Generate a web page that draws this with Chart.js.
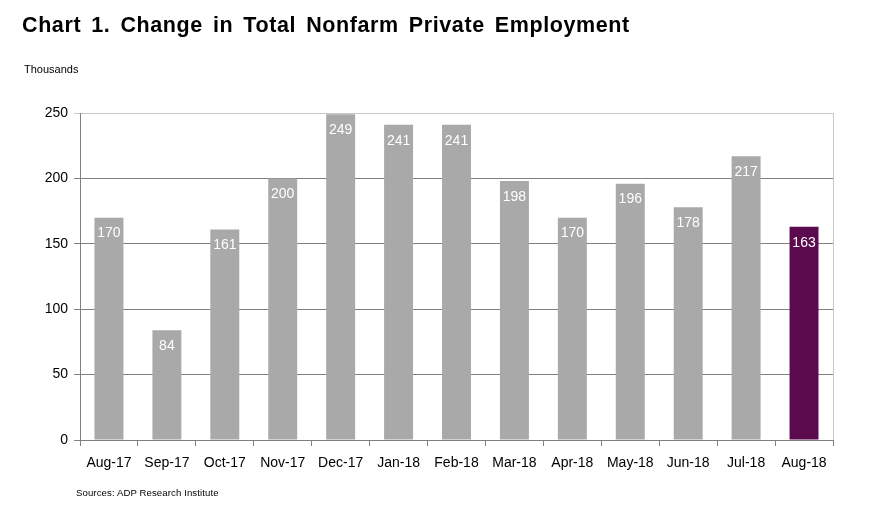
<!DOCTYPE html>
<html>
<head>
<meta charset="utf-8">
<script src="https://cdn.jsdelivr.net/npm/chart.js@4.4.1/dist/chart.umd.min.js"></script>
<style>
  html, body { margin:0; padding:0; background:#fff; }
  #wrap { position:relative; width:869px; height:523px; overflow:hidden; font-family:"Liberation Sans", Arial, sans-serif; }
  #c { position:absolute; left:0; top:0; }
  .t { position:absolute; white-space:nowrap; color:#000; }
  #title { left:22px; top:13px; font-size:21.5px; font-weight:bold; letter-spacing:0.6px; word-spacing:3.5px; }
  #unit { left:24px; top:63px; font-size:11px; }
  #src { left:76px; top:487px; font-size:9.6px; letter-spacing:0.1px; }
</style>
</head>
<body>
<div id="wrap">
  <canvas id="c" width="869" height="523"></canvas>
  <div class="t" id="title">Chart 1. Change in Total Nonfarm Private Employment</div>
  <div class="t" id="unit">Thousands</div>
  <div class="t" id="src">Sources: ADP Research Institute</div>
</div>
<script>
const categories = ["Aug-17","Sep-17","Oct-17","Nov-17","Dec-17","Jan-18","Feb-18","Mar-18","Apr-18","May-18","Jun-18","Jul-18","Aug-18"];
const employmentChange = [170, 84, 161, 200, 249, 241, 241, 198, 170, 196, 178, 217, 163];
const yTicks = [0, 50, 100, 150, 200, 250];

const GRAY = "#a9a9a9";
const PURPLE = "#5b0a4e";
const barColors = categories.map((c, i) => i === categories.length - 1 ? PURPLE : GRAY);

const valueLabels = {
  id: "valueLabels",
  afterDatasetsDraw(chart) {
    const ctx = chart.ctx;
    const meta = chart.getDatasetMeta(0);
    ctx.save();
    ctx.fillStyle = "#ffffff";
    ctx.font = "14px 'Liberation Sans', Arial, sans-serif";
    ctx.textAlign = "center";
    ctx.textBaseline = "middle";
    meta.data.forEach((bar, i) => {
      ctx.fillText(String(employmentChange[i]), bar.x, bar.y + 16);
    });
    ctx.restore();
  }
};

const plotBorder = {
  id: "plotBorder",
  beforeDatasetsDraw(chart) {
    const a = chart.chartArea, ctx = chart.ctx;
    ctx.save();
    ctx.strokeStyle = "#c8c8c8";
    ctx.lineWidth = 1;
    ctx.beginPath();
    ctx.moveTo(Math.round(a.right) + 0.5, a.top);
    ctx.lineTo(Math.round(a.right) + 0.5, a.bottom);
    ctx.stroke();
    ctx.restore();
  }
};

new Chart(document.getElementById("c"), {
  type: "bar",
  data: {
    labels: categories,
    datasets: [{
      data: employmentChange,
      backgroundColor: barColors,
      borderWidth: 0,
      barPercentage: 0.5,
      categoryPercentage: 1.0
    }]
  },
  options: {
    responsive: false,
    animation: false,
    layout: { padding: { left: 0, right: 36, top: 113, bottom: 43 } },
    plugins: { legend: { display: false }, tooltip: { enabled: false }, title: { display: false } },
    scales: {
      x: {
        offset: true,
        grid: { offset: true, drawOnChartArea: false, color: "#808080", tickLength: 6 },
        border: { color: "#808080" },
        ticks: { color: "#000", font: { size: 14, family: "'Liberation Sans', Arial, sans-serif" }, padding: 9, maxRotation: 0, autoSkip: false },
        afterFit(s) { s.height = 40; }
      },
      y: {
        min: 0, max: 250,
        afterBuildTicks(s) { s.ticks = yTicks.map(v => ({ value: v })); },
        grid: {
          color: ctx => (ctx.tick && ctx.tick.value === 250) ? "#c8c8c8" : "#808080",
          tickLength: 6
        },
        border: { color: "#808080" },
        ticks: { color: "#000", font: { size: 14, family: "'Liberation Sans', Arial, sans-serif" }, padding: 6 },
        afterFit(s) { s.width = 80; }
      }
    }
  },
  plugins: [valueLabels, plotBorder]
});
</script>
</body>
</html>
